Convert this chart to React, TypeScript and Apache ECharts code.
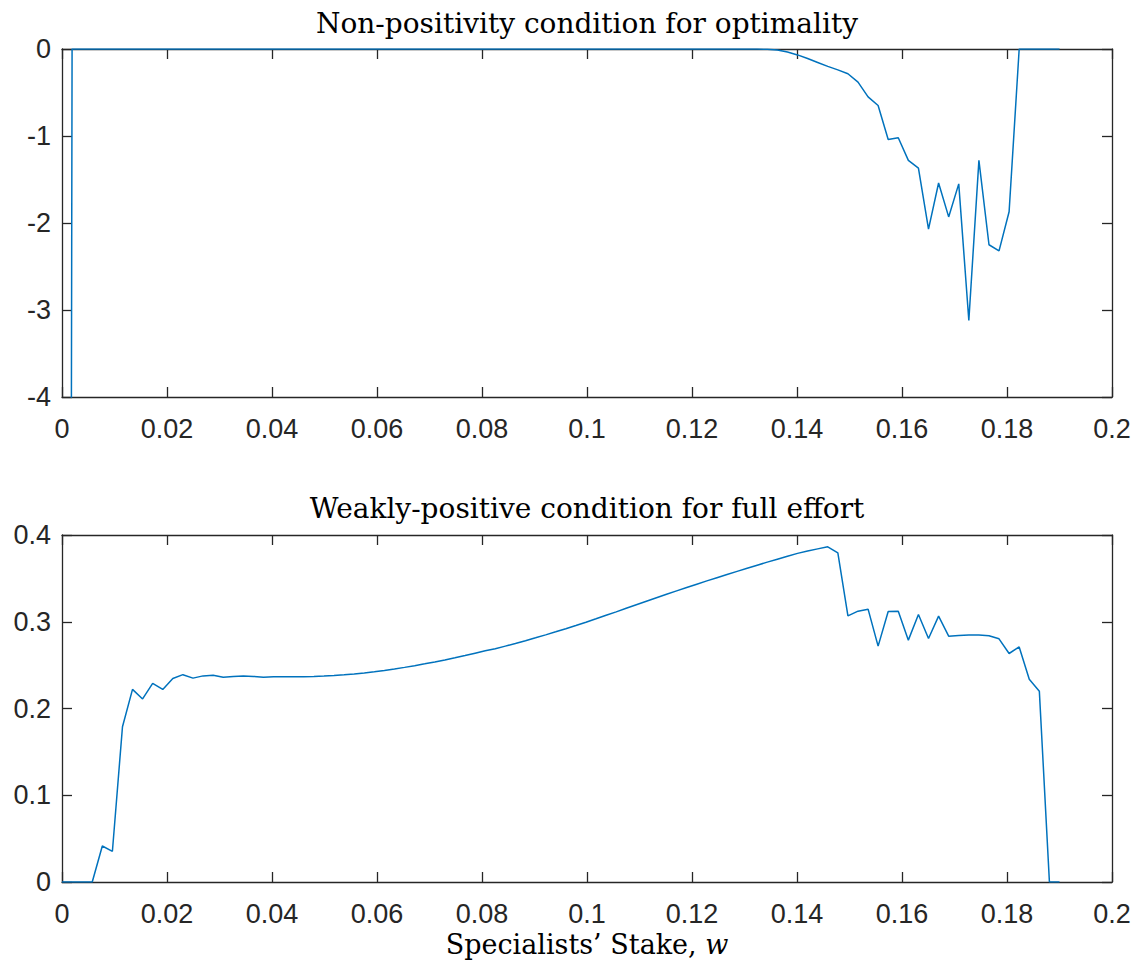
import React, { useEffect, useRef } from "react";
import * as echarts from "echarts";

// Stake grid (w), 100 points from 0 to 0.19
const stakeW: number[] = [
  0, 0.00192, 0.00384, 0.00576, 0.00768, 0.0096, 0.01152, 0.01343, 0.01535, 0.01727,
  0.01919, 0.02111, 0.02303, 0.02495, 0.02687, 0.02879, 0.03071, 0.03263, 0.03455, 0.03646,
  0.03838, 0.0403, 0.04222, 0.04414, 0.04606, 0.04798, 0.0499, 0.05182, 0.05374, 0.05566,
  0.05758, 0.05949, 0.06141, 0.06333, 0.06525, 0.06717, 0.06909, 0.07101, 0.07293, 0.07485,
  0.07677, 0.07869, 0.08061, 0.08253, 0.08444, 0.08636, 0.08828, 0.0902, 0.09212, 0.09404,
  0.09596, 0.09788, 0.0998, 0.10172, 0.10364, 0.10556, 0.10747, 0.10939, 0.11131, 0.11323,
  0.11515, 0.11707, 0.11899, 0.12091, 0.12283, 0.12475, 0.12667, 0.12859, 0.13051, 0.13242,
  0.13434, 0.13626, 0.13818, 0.1401, 0.14202, 0.14394, 0.14586, 0.14778, 0.1497, 0.15162,
  0.15354, 0.15545, 0.15737, 0.15929, 0.16121, 0.16313, 0.16505, 0.16697, 0.16889, 0.17081,
  0.17273, 0.17465, 0.17657, 0.17848, 0.1804, 0.18232, 0.18424, 0.18616, 0.18808, 0.19,
];

// Top panel: non-positivity condition (first value falls far below the axis)
const optimalityCond: number[] = [
  -60, 0, 0, 0, 0, 0, 0, 0, 0, 0,
  0, 0, 0, 0, 0, 0, 0, 0, 0, 0,
  0, 0, 0, 0, 0, 0, 0, 0, 0, 0,
  0, 0, 0, 0, 0, 0, 0, 0, 0, 0,
  0, 0, 0, 0, 0, 0, 0, 0, 0, 0,
  0, 0, 0, 0, 0, 0, 0, 0, 0, 0,
  0, 0, 0, 0, 0, 0, 0, 0, 0, -0.001,
  -0.004, -0.012, -0.035, -0.068, -0.11, -0.155, -0.2, -0.24, -0.285, -0.38,
  -0.55, -0.65, -1.04, -1.02, -1.28, -1.37, -2.07, -1.54, -1.93, -1.55,
  -3.12, -1.28, -2.25, -2.32, -1.87, 0, 0, 0, 0, 0,
];

// Bottom panel: weakly-positive condition for full effort
const effortCond: number[] = [
  0, 0, 0, 0, 0.0415, 0.0354, 0.179, 0.222, 0.211, 0.229,
  0.222, 0.2346, 0.239, 0.235, 0.2376, 0.2384, 0.2361, 0.237, 0.2376, 0.237,
  0.2361, 0.2365, 0.2365, 0.2365, 0.2366, 0.2369, 0.2374, 0.238, 0.2388, 0.2398,
  0.241, 0.2424, 0.2439, 0.2456, 0.2474, 0.2494, 0.2515, 0.2537, 0.256, 0.2585,
  0.2611, 0.2638, 0.2665, 0.2688, 0.2719, 0.275, 0.2782, 0.2815, 0.2849, 0.2884,
  0.292, 0.2957, 0.2995, 0.3034, 0.3074, 0.3114, 0.3155, 0.3196, 0.3237, 0.3277,
  0.3317, 0.3356, 0.3395, 0.3433, 0.3471, 0.3508, 0.3545, 0.3581, 0.3617, 0.3652,
  0.3687, 0.3721, 0.3755, 0.3788, 0.3815, 0.384, 0.3864, 0.3795, 0.3068, 0.3122,
  0.3145, 0.2719, 0.3119, 0.3122, 0.2788, 0.3084, 0.2807, 0.3065, 0.2834, 0.2842,
  0.2846, 0.2846, 0.2838, 0.2803, 0.2634, 0.271, 0.2338, 0.22, 0, 0,
];

const xTicks = { min: 0, max: 0.2, interval: 0.02 };
const topYTicks = { min: -4, max: 0, interval: 1 };
const bottomYTicks = { min: 0, max: 0.4, interval: 0.1 };

const topTitle = "Non-positivity condition for optimality";
const bottomTitle = "Weakly-positive condition for full effort";
const xLabelMain = "Specialists’ Stake, ";
const xLabelVar = "w";

const AXIS_COLOR = "#262626";
const LINE_COLOR = "#0072BD";
const SANS = "'Liberation Sans', Arial, Helvetica, sans-serif";
const SERIF = "'DejaVu Serif', serif";
const TICK_SIZE = 27;
const TITLE_SIZE = 28;
const NAME_SIZE = 27;

export default function App() {
  const ref = useRef<HTMLDivElement>(null);

  useEffect(() => {
    if (!ref.current) return;
    const chart = echarts.init(ref.current, undefined, { renderer: "svg" });

    const fmt2 = (v: number) => String(+v.toFixed(2));
    const fmt1 = (v: number) => String(+v.toFixed(1));

    const baseAxis = (extra: any) => ({
      type: "value",
      axisLine: { show: true, onZero: false, lineStyle: { color: AXIS_COLOR, width: 1.3 } },
      axisTick: { show: true, inside: true, length: 10, lineStyle: { color: AXIS_COLOR, width: 1.3 } },
      splitLine: { show: false },
      ...extra,
    });

    const xLabel = { show: true, color: AXIS_COLOR, fontSize: TICK_SIZE, fontFamily: SANS, margin: 18, formatter: fmt2 };
    const yLabelTop = { show: true, color: AXIS_COLOR, fontSize: TICK_SIZE, fontFamily: SANS, margin: 11 };
    const yLabelBottom = { ...yLabelTop, formatter: fmt1 };

    const option: any = {
      animation: false,
      backgroundColor: "#ffffff",
      grid: [
        { left: 62, top: 49, width: 1050, height: 348, containLabel: false },
        { left: 62, top: 535, width: 1050, height: 347, containLabel: false },
      ],
      xAxis: [
        baseAxis({ gridIndex: 0, position: "bottom", ...xTicks, axisLabel: xLabel }),
        baseAxis({ gridIndex: 0, position: "top", ...xTicks, axisLabel: { show: false } }),
        baseAxis({
          gridIndex: 1,
          position: "bottom",
          ...xTicks,
          axisLabel: xLabel,
          name: "{m|" + xLabelMain + "}{i|" + xLabelVar + "}",
          nameLocation: "middle",
          nameGap: 49,
          nameTextStyle: {
            rich: {
              m: { fontFamily: SERIF, fontSize: NAME_SIZE, color: "#000" },
              i: { fontFamily: SERIF, fontSize: NAME_SIZE, fontStyle: "italic", color: "#000" },
            },
          },
        }),
        baseAxis({ gridIndex: 1, position: "top", ...xTicks, axisLabel: { show: false } }),
      ],
      yAxis: [
        baseAxis({ gridIndex: 0, position: "left", ...topYTicks, axisLabel: yLabelTop }),
        baseAxis({ gridIndex: 0, position: "right", ...topYTicks, axisLabel: { show: false } }),
        baseAxis({ gridIndex: 1, position: "left", ...bottomYTicks, axisLabel: yLabelBottom }),
        baseAxis({ gridIndex: 1, position: "right", ...bottomYTicks, axisLabel: { show: false } }),
      ],
      graphic: [
        {
          type: "text",
          x: 587,
          y: 23,
          style: { text: topTitle, font: TITLE_SIZE + "px " + SERIF, fill: "#000", textAlign: "center", textVerticalAlign: "middle" },
        },
        {
          type: "text",
          x: 587,
          y: 508,
          style: { text: bottomTitle, font: TITLE_SIZE + "px " + SERIF, fill: "#000", textAlign: "center", textVerticalAlign: "middle" },
        },
      ],
      series: [
        {
          type: "line",
          xAxisIndex: 0,
          yAxisIndex: 0,
          data: stakeW.map((w, i) => [w, optimalityCond[i]]),
          showSymbol: false,
          clip: true,
          lineStyle: { color: LINE_COLOR, width: 1.5 },
          itemStyle: { color: LINE_COLOR },
          z: 1,
        },
        {
          type: "line",
          xAxisIndex: 2,
          yAxisIndex: 2,
          data: stakeW.map((w, i) => [w, effortCond[i]]),
          showSymbol: false,
          clip: true,
          lineStyle: { color: LINE_COLOR, width: 1.5 },
          itemStyle: { color: LINE_COLOR },
          z: 1,
        },
      ],
    };

    chart.setOption(option);
    return () => chart.dispose();
  }, []);

  return (
    <div
      ref={ref}
      style={{ position: "fixed", left: 0, top: 0, width: 1141, height: 969, background: "#fff" }}
    />
  );
}
